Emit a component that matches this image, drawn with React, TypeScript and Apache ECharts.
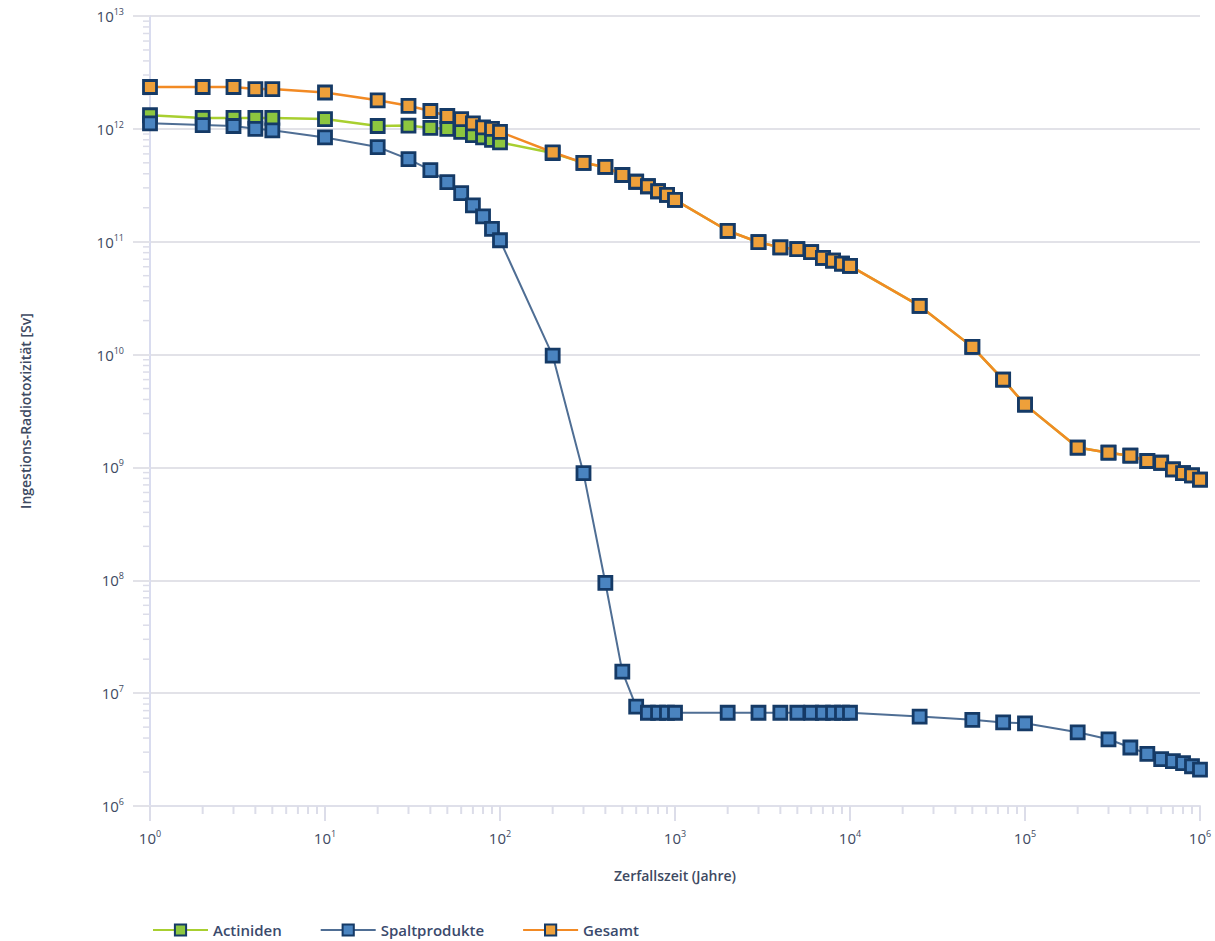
import React, { useEffect, useRef } from "react";
import * as echarts from "echarts";

const years = [
  1, 2, 3, 4, 5, 10, 20, 30, 40, 50, 60, 70, 80, 90, 100,
  200, 300, 400, 500, 600, 700, 800, 900, 1000,
  2000, 3000, 4000, 5000, 6000, 7000, 8000, 9000, 10000,
  25000, 50000, 75000, 100000,
  200000, 300000, 400000, 500000, 600000, 700000, 800000, 900000, 1000000,
];

const actiniden = [
  1.32e12, 1.25e12, 1.25e12, 1.25e12, 1.25e12, 1.22e12, 1.06e12, 1.07e12, 1.02e12, 1.0e12, 9.4e11, 8.8e11, 8.4e11, 8.0e11, 7.6e11,
  6.1e11, 4.99e11, 4.6e11, 3.9e11, 3.4e11, 3.1e11, 2.8e11, 2.6e11, 2.35e11,
  1.25e11, 9.9e10, 8.9e10, 8.6e10, 8.1e10, 7.2e10, 6.8e10, 6.4e10, 6.1e10,
  2.7e10, 1.17e10, 6.0e9, 3.6e9,
  1.5e9, 1.35e9, 1.27e9, 1.14e9, 1.1e9, 9.6e8, 8.9e8, 8.5e8, 7.8e8,
];

const spaltprodukte = [
  1.12e12, 1.08e12, 1.06e12, 1.0e12, 9.7e11, 8.4e11, 6.9e11, 5.4e11, 4.3e11, 3.37e11, 2.7e11, 2.1e11, 1.68e11, 1.3e11, 1.03e11,
  9.8e9, 8.9e8, 9.5e7, 1.55e7, 7.6e6, 6.7e6, 6.7e6, 6.7e6, 6.7e6,
  6.7e6, 6.7e6, 6.7e6, 6.7e6, 6.7e6, 6.7e6, 6.7e6, 6.7e6, 6.7e6,
  6.2e6, 5.8e6, 5.5e6, 5.4e6,
  4.5e6, 3.9e6, 3.3e6, 2.9e6, 2.6e6, 2.5e6, 2.4e6, 2.25e6, 2.1e6,
];

const gesamt = [
  2.35e12, 2.35e12, 2.35e12, 2.25e12, 2.25e12, 2.1e12, 1.79e12, 1.6e12, 1.44e12, 1.3e12, 1.22e12, 1.12e12, 1.03e12, 1.0e12, 9.4e11,
  6.2e11, 5.0e11, 4.6e11, 3.9e11, 3.4e11, 3.1e11, 2.8e11, 2.6e11, 2.35e11,
  1.25e11, 9.9e10, 8.9e10, 8.6e10, 8.1e10, 7.2e10, 6.8e10, 6.4e10, 6.1e10,
  2.7e10, 1.17e10, 6.0e9, 3.6e9,
  1.5e9, 1.35e9, 1.27e9, 1.14e9, 1.1e9, 9.6e8, 8.9e8, 8.5e8, 7.8e8,
];

const seriesNames = ["Actiniden", "Spaltprodukte", "Gesamt"];
const xDecades = [0, 1, 2, 3, 4, 5];
const yDecades = [6, 7, 8, 9, 10, 11, 12];
const minorMultipliers = [2, 3, 4, 5, 6, 7, 8, 9];

const X_MIN = 1;
const X_MAX = 1e6;
const Y_MIN = 1e6;
const Y_MAX = 1e13;

const FONT = "'Open Sans', 'Noto Sans', sans-serif";
const TEXT = "#3e4a62";

function pow10Label(v: number) {
  const e = Math.round(Math.log10(v));
  return `{b|10}{s|${e}}`;
}

const richSup = {
  b: { fontSize: 15, color: TEXT, fontFamily: FONT, lineHeight: 18 },
  s: { fontSize: 9, color: TEXT, fontFamily: FONT, lineHeight: 10, verticalAlign: "top" },
};

export default function App() {
  const ref = useRef<HTMLDivElement>(null);

  useEffect(() => {
    document.body.style.margin = "0";
    if (!ref.current) return;
    const chart = echarts.init(ref.current, undefined, { renderer: "svg" });

    const xMinor: number[][] = [];
    xDecades.forEach((d) => minorMultipliers.forEach((m) => xMinor.push([m * Math.pow(10, d), Y_MIN])));
    const yMinor: number[][] = [];
    yDecades.forEach((d) => minorMultipliers.forEach((m) => yMinor.push([X_MIN, m * Math.pow(10, d)])));

    const mk = (vals: number[]) => years.map((x, i) => [x, vals[i]]);

    const lineColors = ["#a8cf30", "#4f6e94", "#f28a24"];
    const fillColors = ["#8cc63f", "#4a84c0", "#eea03a"];
    const widths = [2.5, 2, 2.5];
    const values = [actiniden, spaltprodukte, gesamt];

    chart.setOption({
      animation: false,
      backgroundColor: "#ffffff",
      grid: { left: 150, right: 15, top: 16, bottom: 135, containLabel: false },
      legend: {
        data: seriesNames,
        left: 147,
        top: 916,
        itemWidth: 55,
        itemHeight: 14,
        itemGap: 38,
        textStyle: { fontSize: 15, fontWeight: 600, color: "#3a4a6c", fontFamily: FONT, lineHeight: 18 },
      },
      xAxis: {
        type: "log",
        logBase: 10,
        min: X_MIN,
        max: X_MAX,
        name: "Zerfallszeit (Jahre)",
        nameLocation: "middle",
        nameGap: 62,
        nameTextStyle: { fontSize: 14, fontWeight: 600, color: TEXT, fontFamily: FONT },
        axisLine: { show: true, lineStyle: { color: "#dfe0ea", width: 2 } },
        axisTick: { show: true, length: 15, lineStyle: { color: "#dcdde9", width: 2 } },
        axisLabel: { margin: 23, formatter: pow10Label, rich: richSup },
        splitLine: { show: false },
      },
      yAxis: {
        type: "log",
        logBase: 10,
        min: Y_MIN,
        max: Y_MAX,
        name: "Ingestions-Radiotoxizität [Sv]",
        nameLocation: "middle",
        nameGap: 118,
        nameTextStyle: { fontSize: 14, fontWeight: 600, color: TEXT, fontFamily: FONT },
        axisLine: { show: true, lineStyle: { color: "#d9dcef", width: 2 } },
        axisTick: { show: true, length: 17, lineStyle: { color: "#e2e2e8", width: 2 } },
        axisLabel: { margin: 26, formatter: pow10Label, rich: richSup },
        splitLine: { show: true, lineStyle: { color: "#e2e2e8", width: 2 } },
      },
      series: [
        {
          type: "custom",
          name: "xMinor",
          silent: true,
          clip: false,
          z: 1,
          data: xMinor,
          renderItem: (_p: any, api: any) => {
            const pt = api.coord([api.value(0), api.value(1)]);
            return {
              type: "line",
              shape: { x1: pt[0], y1: pt[1], x2: pt[0], y2: pt[1] + 8 },
              style: { stroke: "#dcdde9", lineWidth: 2 },
            };
          },
        },
        {
          type: "custom",
          name: "yMinor",
          silent: true,
          clip: false,
          z: 1,
          data: yMinor,
          renderItem: (_p: any, api: any) => {
            const pt = api.coord([api.value(0), api.value(1)]);
            return {
              type: "line",
              shape: { x1: pt[0] - 7, y1: pt[1], x2: pt[0], y2: pt[1] },
              style: { stroke: "#dcdde9", lineWidth: 1.5 },
            };
          },
        },
        ...seriesNames.map((name, i) => ({
          type: "line",
          name,
          data: mk(values[i]),
          symbol: "rect",
          symbolSize: 13,
          showSymbol: true,
          z: 3 + i,
          lineStyle: { color: lineColors[i], width: widths[i] },
          itemStyle: { color: fillColors[i], borderColor: "#153a66", borderWidth: 2.8 },
        })),
      ],
    });

    return () => chart.dispose();
  }, []);

  return <div ref={ref} style={{ width: 1215, height: 941 }} />;
}
